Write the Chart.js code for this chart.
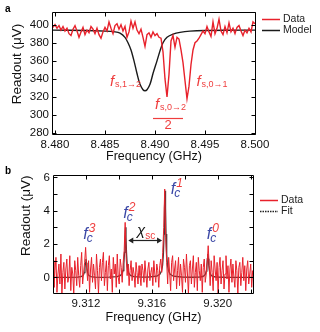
<!DOCTYPE html>
<html>
<head>
<meta charset="utf-8">
<script src="https://cdn.jsdelivr.net/npm/chart.js@4.4.1/dist/chart.umd.min.js"></script>
<style>
  html, body { margin: 0; padding: 0; background: #fff; }
  canvas { display: block; }
</style>
</head>
<body>
<canvas id="chartA" width="320" height="165"></canvas>
<canvas id="chartB" width="320" height="167"></canvas>
<script>
// ---- panel a: spectroscopy sweep ----
const sweepStartA = 8.4798
const sweepStepA = 0.0002
const readoutA = [
  397, 400, 396, 399, 394, 398, 393, 396, 390, 388,
  395, 399, 393, 386, 392, 397, 389, 394, 391, 398,
  395, 390, 396, 389, 385, 392, 397, 393, 403, 396,
  390, 399, 401, 395, 400, 393, 398, 386, 392, 404,
  396, 403, 394, 390, 395, 386, 376, 389, 391, 386,
  392, 388, 390, 386, 385, 370, 340, 320, 345, 382,
  388, 375, 386, 384, 372, 358, 338, 318, 332, 356,
  372, 380, 382, 385, 389, 393, 390, 398, 392, 387,
  403, 390, 396, 406, 393, 389, 398, 391, 402, 392,
  396, 390, 397, 399, 393, 388, 394, 391, 396, 392,
  403, 401
]
const modelFreqA = [8.4797, 8.4830, 8.4850, 8.4860, 8.4865, 8.4870, 8.4873, 8.4876, 8.4879,
  8.4882, 8.4885, 8.4888, 8.4890, 8.4892, 8.4895, 8.4898, 8.4902, 8.4905, 8.4908, 8.4912,
  8.4918, 8.4925, 8.4935, 8.4950, 8.4975, 8.5001]
const modelA = [394, 393.5, 392.8, 392, 390.7, 386, 380, 372, 360,
  346, 334, 328, 327, 328, 334, 346, 360, 371, 380, 386,
  389.5, 391.5, 392.8, 393.5, 393.8, 394]
const xTicksA = [8.480, 8.485, 8.490, 8.495, 8.500]
const yTicksA = [280, 300, 320, 340, 360, 380, 400]

// ---- panel b: cavity spectrum ----
const sweepStartB = 9.3100
const sweepStepB = 0.00006
const readoutB = [
  1.0, -0.6, 0.4, 1.2, -0.9, 0.2, 0.8, -0.4, 1.4, -1.0,
  0.3, 0.9, -0.7, 0.5, 1.1, -0.3, 0.0, 1.3, -0.8, 0.6,
  0.2, -1.0, 1.0, 0.4, -0.5, 1.2, 0.1, -0.6, 0.7, 1.5,
  -0.4, 0.3, 0.9, 1.8, 0.6, -0.2, 1.0, -0.9, 0.5, 1.2,
  -0.3, 0.8, 0.1, -0.7, 1.4, 0.4, -1.0, 0.6, 1.1, -0.2,
  0.9, 1.5, -0.5, 0.3, 1.0, -0.8, 0.7, 1.3, -0.1, 0.5,
  -0.9, 1.2, 0.2, 0.8, -0.6, 1.4, 0.0, -0.4, 1.1, 0.6,
  -0.3, 0.9, 1.6, 3.3, 1.2, 0.1, 0.8, -0.5, 0.4, 1.0,
  -0.2, 0.6, 0.2, -0.6, 0.9, 0.3, -0.4, 0.7, 0.1, -0.5,
  0.8, 0.4, -0.3, 1.0, 0.2, -0.6, 0.5, 0.9, -0.2, 0.3,
  0.6, -0.5, 1.0, 0.2, -0.3, 0.8, 0.4, -0.6, 0.7, 1.1,
  0.3, 1.5, 3.0, 5.3, 2.4, 0.9, -0.4, 1.2, 0.3, -0.8,
  0.9, 1.3, -0.2, 0.5, 1.0, -0.7, 0.4, 1.2, -0.5, 0.8,
  0.1, -0.9, 1.1, 0.6, -0.3, 1.4, 0.2, -1.0, 0.7, 1.0,
  -0.4, 0.5, 1.3, -0.6, 0.3, 0.9, -0.8, 1.2, 0.4, -0.2,
  0.8, -0.9, 0.6, 1.1, -0.3, 0.2, 0.9, 1.9, 0.7, -0.5,
  1.0, 0.3, -0.8, 1.3, 0.5, -0.2, 0.9, -1.0, 0.6, 1.2,
  -0.4, 0.4, 1.0, -0.7, 0.2, 1.3, -0.1, 0.7, -0.9, 0.5,
  1.1, -0.3, 0.8, 0.0, -0.6, 1.0, 0.4, -1.0, 0.6, 0.9,
  -0.5, 0.3, 1.2, -0.2, 0.7, -0.8, 0.5, 1.0, -0.4, 0.2,
  0.8, -0.6, 0.4, 0.1
]
const fitFreqB = [9.3100,
  9.3110, 9.3115, 9.3117, 9.3118, 9.31185, 9.3119, 9.31194, 9.31197, 9.3120,
  9.31203, 9.31206, 9.3121, 9.31215, 9.3122, 9.3123, 9.3125, 9.3130,
  9.3134, 9.3139, 9.3141, 9.3142, 9.31425, 9.3143, 9.31434, 9.31437, 9.3144,
  9.31443, 9.31446, 9.3145, 9.31455, 9.3146, 9.3147, 9.3149, 9.3154,
  9.3158, 9.3163, 9.3165, 9.3166, 9.31665, 9.3167, 9.31674, 9.31677, 9.3168,
  9.31683, 9.31686, 9.3169, 9.31695, 9.3170, 9.3171, 9.3173, 9.3178,
  9.3184, 9.3189, 9.3191, 9.3192, 9.31925, 9.3193, 9.31934, 9.31937, 9.3194,
  9.31943, 9.31946, 9.3195, 9.31955, 9.3196, 9.3197, 9.3199, 9.3204,
  9.3222]
const fitB = [0,
  0.004, 0.016, 0.04, 0.09, 0.15, 0.29, 0.55, 0.88, 1.1,
  0.88, 0.55, 0.29, 0.15, 0.09, 0.04, 0.016, 0.004,
  0.01, 0.04, 0.12, 0.25, 0.41, 0.80, 1.5, 2.4, 3.0,
  2.4, 1.5, 0.80, 0.41, 0.25, 0.12, 0.04, 0.01,
  0.02, 0.07, 0.20, 0.43, 0.72, 1.38, 2.6, 4.16, 5.2,
  4.16, 2.6, 1.38, 0.72, 0.43, 0.20, 0.07, 0.02,
  0.005, 0.02, 0.05, 0.12, 0.19, 0.37, 0.7, 1.12, 1.4,
  1.12, 0.7, 0.37, 0.19, 0.12, 0.05, 0.02, 0.005,
  0]
const xTicksB = [9.312, 9.316, 9.320]
const xMarksB = [9.312, 9.314, 9.316, 9.318, 9.320, 9.322]
const yTicksB = [0, 2, 4, 6]
const yMarksB = [0, 1, 2, 3, 4, 5, 6]

const RED = '#e8212b'
const LABEL_RED = '#ef3d3d'
const BLUE = '#3b48a6'
const FONT = '"Liberation Sans", Arial, sans-serif'

Chart.defaults.font.family = FONT
Chart.defaults.color = '#111'

const sweep = (start, step, vals) => vals.map((v, i) => ({ x: start + i * step, y: v }))
const pairs = (xs, ys) => xs.map((x, i) => ({ x: x, y: ys[i] }))

// draw a run of text pieces (for sub/superscripts)
const drawRuns = (ctx, x, y, runs) => {
  let cx = x
  for (let r of runs) {
    ctx.font = r.font + ' ' + FONT
    ctx.fillStyle = r.color
    const px = r.dx != null ? x + r.dx : cx
    ctx.fillText(r.t, px, y + (r.dy || 0))
    cx = px + ctx.measureText(r.t).width
  }
}

// box with inward ticks on all four sides, plus y title, legend and panel letter
const framePlugin = {
  id: 'frame',
  afterDraw(chart, args, opts) {
    const { ctx, chartArea: a, scales } = chart
    const L = Math.round(a.left) + 0.5, R = Math.round(a.right) - 0.5
    const T = Math.round(a.top) + 0.5, B = Math.round(a.bottom) - 0.5
    ctx.save()
    ctx.strokeStyle = '#000'
    ctx.lineWidth = 1
    ctx.beginPath()
    ctx.rect(L, T, R - L, B - T)
    for (let v of opts.xMarks) {
      const px = Math.round(scales.x.getPixelForValue(v)) + 0.5
      ctx.moveTo(px, B); ctx.lineTo(px, B - 4)
      ctx.moveTo(px, T); ctx.lineTo(px, T + 4)
    }
    for (let v of opts.yMarks) {
      const py = Math.round(scales.y.getPixelForValue(v)) + 0.5
      ctx.moveTo(L, py); ctx.lineTo(L + 4, py)
      ctx.moveTo(R, py); ctx.lineTo(R - 4, py)
    }
    ctx.stroke()

    // y axis title
    ctx.save()
    ctx.translate(opts.yTitle.x, opts.yTitle.y)
    ctx.rotate(-Math.PI / 2)
    ctx.font = '13.5px ' + FONT
    ctx.fillStyle = '#111'
    ctx.textAlign = 'center'
    ctx.textBaseline = 'middle'
    ctx.fillText('Readout (\u03bcV)', 0, 0)
    ctx.restore()

    // panel letter
    ctx.font = 'bold 10px ' + FONT
    ctx.fillStyle = '#000'
    ctx.textBaseline = 'alphabetic'
    ctx.fillText(opts.letter, 5, opts.letterY)

    // legend
    ctx.textBaseline = 'middle'
    opts.legend.forEach((item, i) => {
      const y = Math.round(a.top + item.dy) + 0.5
      ctx.beginPath()
      ctx.strokeStyle = item.color
      ctx.lineWidth = 1.5
      ctx.setLineDash(item.dash || [])
      ctx.moveTo(a.right + 6, y); ctx.lineTo(a.right + 24, y)
      ctx.stroke()
      ctx.setLineDash([])
      ctx.font = '10.5px ' + FONT
      ctx.fillStyle = '#222'
      ctx.fillText(item.text, a.right + 27, y)
    })
    ctx.restore()
  }
}

const labelsPluginA = {
  id: 'labelsA',
  afterDatasetsDraw(chart) {
    const { ctx, scales: { x, y } } = chart
    ctx.save()
    ctx.textBaseline = 'alphabetic'
    ctx.textAlign = 'left'
    const fRuns = (sub) => [
      { t: 'f', font: 'italic 15px', color: LABEL_RED },
      { t: sub, font: '9px', color: LABEL_RED, dx: 5, dy: 1 }
    ]
    drawRuns(ctx, x.getPixelForValue(8.4855), y.getPixelForValue(332), fRuns('s,1\u21922'))
    drawRuns(ctx, x.getPixelForValue(8.49415), y.getPixelForValue(332), fRuns('s,0\u21921'))
    drawRuns(ctx, x.getPixelForValue(8.4900), y.getPixelForValue(306.7), fRuns('s,0\u21922'))
    // fraction bar and denominator
    const by = Math.round(y.getPixelForValue(297)) + 0.5
    ctx.beginPath()
    ctx.strokeStyle = LABEL_RED
    ctx.lineWidth = 1.2
    ctx.moveTo(x.getPixelForValue(8.4898), by)
    ctx.lineTo(x.getPixelForValue(8.4928), by)
    ctx.stroke()
    ctx.font = '13px ' + FONT
    ctx.fillStyle = LABEL_RED
    ctx.textAlign = 'center'
    ctx.fillText('2', x.getPixelForValue(8.4913), y.getPixelForValue(284.5))
    ctx.restore()
  }
}

const labelsPluginB = {
  id: 'labelsB',
  afterDatasetsDraw(chart) {
    const { ctx, scales: { x, y } } = chart
    ctx.save()
    ctx.textBaseline = 'alphabetic'
    ctx.textAlign = 'left'
    const fc = (fx, fy, n) => {
      const px = x.getPixelForValue(fx), py = y.getPixelForValue(fy)
      drawRuns(ctx, px, py, [
        { t: 'f', font: 'italic 16px', color: BLUE },
        { t: 'c', font: 'italic 12px', color: BLUE, dx: 3.5, dy: 3 },
        { t: n, font: 'italic 12px', color: LABEL_RED, dx: 5.5, dy: -7 }
      ])
    }
    fc(9.31183, 2.30, '3')
    fc(9.31427, 3.58, '2')
    fc(9.31715, 4.99, '1')
    fc(9.31933, 2.30, '0')

    drawRuns(ctx, x.getPixelForValue(9.31510), y.getPixelForValue(2.53), [
      { t: '\u03c7', font: 'italic 15px', color: '#111' },
      { t: 'sc', font: '10px', color: LABEL_RED, dy: 4 }
    ])
    // double arrow between f_c^2 and f_c^1
    const x0 = x.getPixelForValue(9.31457), x1 = x.getPixelForValue(9.31662)
    const ay = Math.round(y.getPixelForValue(2.22)) + 0.5
    ctx.strokeStyle = '#222'
    ctx.fillStyle = '#222'
    ctx.lineWidth = 1.2
    ctx.beginPath()
    ctx.moveTo(x0 + 3, ay); ctx.lineTo(x1 - 3, ay)
    ctx.stroke()
    ctx.beginPath()
    ctx.moveTo(x0, ay); ctx.lineTo(x0 + 5, ay - 3); ctx.lineTo(x0 + 5, ay + 3); ctx.closePath()
    ctx.moveTo(x1, ay); ctx.lineTo(x1 - 5, ay - 3); ctx.lineTo(x1 - 5, ay + 3); ctx.closePath()
    ctx.fill()
    ctx.restore()
  }
}

const axisX = (min, max, ticks, titlePad, height) => ({
  type: 'linear', min: min, max: max,
  afterBuildTicks: (s) => { s.ticks = ticks.map(v => ({ value: v })) },
  afterFit: (s) => { s.height = height },
  grid: { display: false, drawTicks: false },
  border: { display: false },
  ticks: { font: { size: 11.5 }, color: '#111', padding: 3, maxRotation: 0,
    callback: (v) => v.toFixed(3) },
  title: { display: true, text: 'Frequency (GHz)', font: { size: 12.5 }, color: '#111',
    padding: { top: 0, bottom: titlePad } }
})

const axisY = (min, max, ticks, width) => ({
  type: 'linear', min: min, max: max,
  afterBuildTicks: (s) => { s.ticks = ticks.map(v => ({ value: v })) },
  afterFit: (s) => { s.width = width },
  grid: { display: false, drawTicks: false },
  border: { display: false },
  ticks: { font: { size: 11.5 }, color: '#111', padding: 3 }
})

new Chart(document.getElementById('chartA'), {
  type: 'line',
  data: {
    datasets: [
      { label: 'Data', data: sweep(sweepStartA, sweepStepA, readoutA),
        borderColor: RED, borderWidth: 1.4, pointRadius: 0, tension: 0 },
      { label: 'Model', data: pairs(modelFreqA, modelA),
        borderColor: '#1a1a1a', borderWidth: 1.4, pointRadius: 0, tension: 0.3 }
    ]
  },
  options: {
    responsive: false, animation: false, devicePixelRatio: 1,
    layout: { padding: { left: 6, right: 64, top: 12, bottom: 1 } },
    scales: {
      x: axisX(8.4797, 8.5001, xTicksA, 0, 29),
      y: axisY(278, 414, yTicksA, 46)
    },
    plugins: {
      legend: { display: false }, tooltip: { enabled: false },
      frame: {
        xMarks: xTicksA, yMarks: yTicksA, letter: 'a', letterY: 12,
        yTitle: { x: 17.7, y: 64 },
        legend: [
          { text: 'Data', color: RED, dy: 7 },
          { text: 'Model', color: '#1a1a1a', dy: 18 }
        ]
      }
    }
  },
  plugins: [framePlugin, labelsPluginA]
})

new Chart(document.getElementById('chartB'), {
  type: 'line',
  data: {
    datasets: [
      { label: 'Data', data: sweep(sweepStartB, sweepStepB, readoutB),
        borderColor: RED, borderWidth: 1, pointRadius: 0, tension: 0 },
      { label: 'Fit', data: pairs(fitFreqB, fitB),
        borderColor: 'rgba(45,20,20,0.85)', borderWidth: 1.3, pointRadius: 0, tension: 0 }
    ]
  },
  options: {
    responsive: false, animation: false, devicePixelRatio: 1,
    layout: { padding: { left: 6, right: 66, top: 6, bottom: 1 } },
    scales: {
      x: axisX(9.3100, 9.3222, xTicksB, 5.5, 37),
      y: axisY(-1, 6.15, yTicksB, 47)
    },
    plugins: {
      legend: { display: false }, tooltip: { enabled: false },
      frame: {
        xMarks: xMarksB, yMarks: yMarksB, letter: 'b', letterY: 9,
        yTitle: { x: 26.7, y: 50.8 },
        legend: [
          { text: 'Data', color: RED, dy: 24.7 },
          { text: 'Fit', color: '#222', dy: 35.7, dash: [1.5, 1] }
        ]
      }
    }
  },
  plugins: [framePlugin, labelsPluginB]
})
</script>
</body>
</html>
